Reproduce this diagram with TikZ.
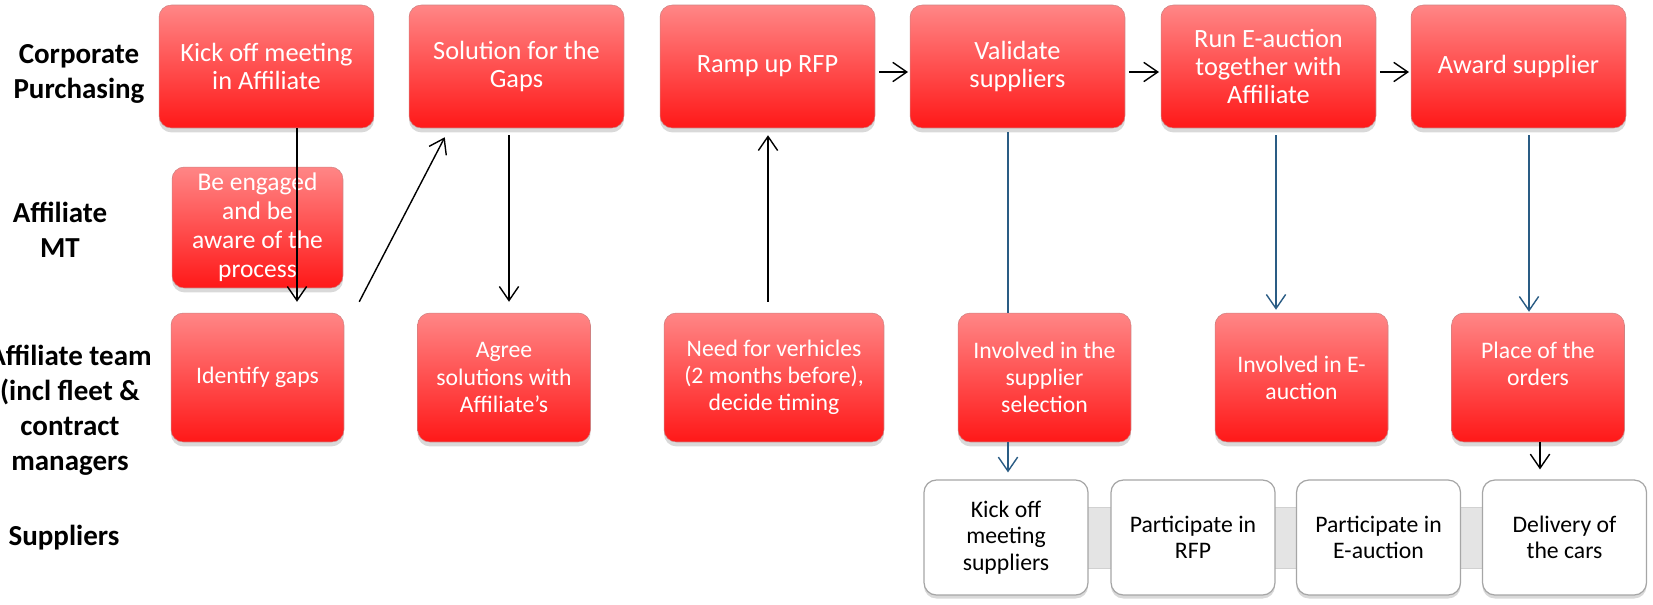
\documentclass[tikz,border=0pt]{standalone}
\usepackage{fontspec}
\setmainfont{Carlito}
\usepackage{tikz}
\usetikzlibrary{positioning}
\usetikzlibrary{shadows}
\usetikzlibrary{backgrounds}
\usetikzlibrary{arrows.meta}
\usepackage{xcolor}

\definecolor{redtop}{RGB}{255,134,134}
\definecolor{redbot}{RGB}{255,24,24}
\definecolor{rededge}{RGB}{175,45,45}
\definecolor{linkblue}{RGB}{42,92,132}
\definecolor{bandgray}{RGB}{228,228,228}

\tikzset{
	redbox/.style={rectangle, rounded corners=7pt, inner sep=1pt, top color=redtop, bottom color=redbot, draw=rededge!60, line width=0.3pt, text=white, align=center, drop shadow={opacity=0.3, shadow xshift=0pt, shadow yshift=-2.5pt}},
	cpbox/.style={redbox, minimum width=4.3cm, minimum height=2.46cm, font=\fontsize{15}{16}\selectfont},
	teambox/.style={redbox, minimum width=3.46cm, minimum height=2.58cm, font=\fontsize{13.5}{15.5}\selectfont},
	suppbox/.style={rectangle, rounded corners=7pt, fill=white, draw=black!35, line width=0.7pt, align=center, minimum width=3.28cm, minimum height=2.3cm, font=\fontsize{13.5}{15}\selectfont, drop shadow={opacity=0.3, shadow xshift=0pt, shadow yshift=-2pt}},
	lanelabel/.style={align=center, font=\fontsize{16.5}{20}\selectfont\bfseries},
	arr/.style={black, ->, line width=0.8pt},
	bluearr/.style={linkblue, ->, line width=0.8pt},
	blueline/.style={linkblue, line width=0.8pt}
}

\begin{document}
\begin{tikzpicture}[x=0.02cm, y=-0.02cm, >={Straight Barb[length=8pt,width=11pt]}]
	\useasboundingbox (0,0) rectangle (1653,605);

	% lanes
	\node[lanelabel] (lcorp) at (79,74) {Corporate\\Purchasing};
	\node[lanelabel] (lmt) at (60,230) {Affiliate\\MT};
	\node[lanelabel] (lteam) at (70,410) {Affiliate team\\(incl fleet \&\\contract\\managers};
	\node[lanelabel] (lsupp) at (64,538) {Suppliers};

	% corporate purchasing
	\node[cpbox] (kick) at (266.5,66.5) {Kick off meeting\\in Affiliate};
	\node[cpbox] (sol) at (516.5,66.5) {Solution for the\\Gaps};
	\node[cpbox] (ramp) at (767.5,66.5) {Ramp up RFP};
	\node[cpbox] (val) at (1017.5,66.5) {Validate\\suppliers};
	\node[cpbox] (run) at (1268.5,66.5) {Run E-auction\\together with\\Affiliate};
	\node[cpbox] (award) at (1518.5,66.5) {Award supplier};

	% affiliate MT
	\node[redbox, minimum width=3.42cm, minimum height=2.42cm, font=\fontsize{14.5}{16.5}\selectfont] (engage) at (257.5,227.5) {Be engaged\\and be\\aware of the\\process};

	% affiliate team
	\node[teambox] (ident) at (257.5,377.5) {Identify gaps};
	\node[teambox] (agree) at (504,377.5) {Agree\\solutions with\\Affiliate’s};
	\node[teambox, minimum width=4.4cm] (need) at (774,377.5) {Need for verhicles\\(2 months before),\\decide timing};
	\node[teambox] (invsup) at (1044.5,377.5) {Involved in the\\supplier\\selection};
	\node[teambox] (invauc) at (1301.5,377.5) {Involved in E-\\auction};
	\node[teambox] (place) at (1538,377.5) {Place of the\\orders\\\mbox{}};

	% suppliers
	\node[suppbox] (kos) at (1006,537.5) {Kick off\\meeting\\suppliers};
	\node[suppbox] (prfp) at (1193,537.5) {Participate in\\RFP};
	\node[suppbox] (pauc) at (1378.5,537.5) {Participate in\\E-auction};
	\node[suppbox] (deliv) at (1564.5,537.5) {Delivery of\\the cars};
	\begin{scope}[on background layer]
		\filldraw[fill=bandgray, draw=black!18] ([yshift=0.61cm]kos.center) rectangle ([yshift=-0.61cm]deliv.center);
	\end{scope}

	% flow
	\draw[arr] ([xshift=0.61cm]kick.south) -- ([xshift=0.61cm, yshift=0.22cm]kick.south |- ident.north);
	\draw[arr] ([xshift=0.3cm, yshift=0.22cm]ident.north east) -- ([xshift=0.72cm, yshift=-0.18cm]sol.south west);
	\draw[arr] ([xshift=-0.15cm, yshift=-0.14cm]sol.south) -- ([xshift=-0.15cm, yshift=0.22cm]sol.south |- agree.north);
	\draw[arr] ([xshift=-0.12cm, yshift=0.22cm]need.north) -- ([xshift=-0.12cm, yshift=-0.14cm]need.north |- ramp.south);
	\draw[arr] ([xshift=2pt, yshift=-0.11cm]ramp.east) -- ([xshift=-1pt, yshift=-0.11cm]val.west);
	\draw[arr] ([xshift=2pt, yshift=-0.11cm]val.east) -- ([xshift=-1pt, yshift=-0.11cm]run.west);
	\draw[arr] ([xshift=2pt, yshift=-0.11cm]run.east) -- ([xshift=-1pt, yshift=-0.11cm]award.west);
	\draw[blueline] ([xshift=-0.19cm, yshift=-0.08cm]val.south) -- ([xshift=-0.19cm]val.south |- invsup.north);
	\draw[bluearr] ([xshift=-0.19cm]val.south |- invsup.south) -- ([xshift=-0.19cm, yshift=0.14cm]val.south |- kos.north);
	\draw[bluearr] ([xshift=0.15cm, yshift=-0.14cm]run.south) -- ([xshift=0.15cm, yshift=0.06cm]run.south |- invauc.north);
	\draw[bluearr] ([xshift=0.21cm, yshift=-0.14cm]award.south) -- ([xshift=0.21cm, yshift=0.02cm]award.south |- place.north);
	\draw[arr] ([xshift=0.04cm]place.south) -- ([xshift=0.04cm, yshift=0.2cm]place.south |- deliv.north);
\end{tikzpicture}
\end{document}
